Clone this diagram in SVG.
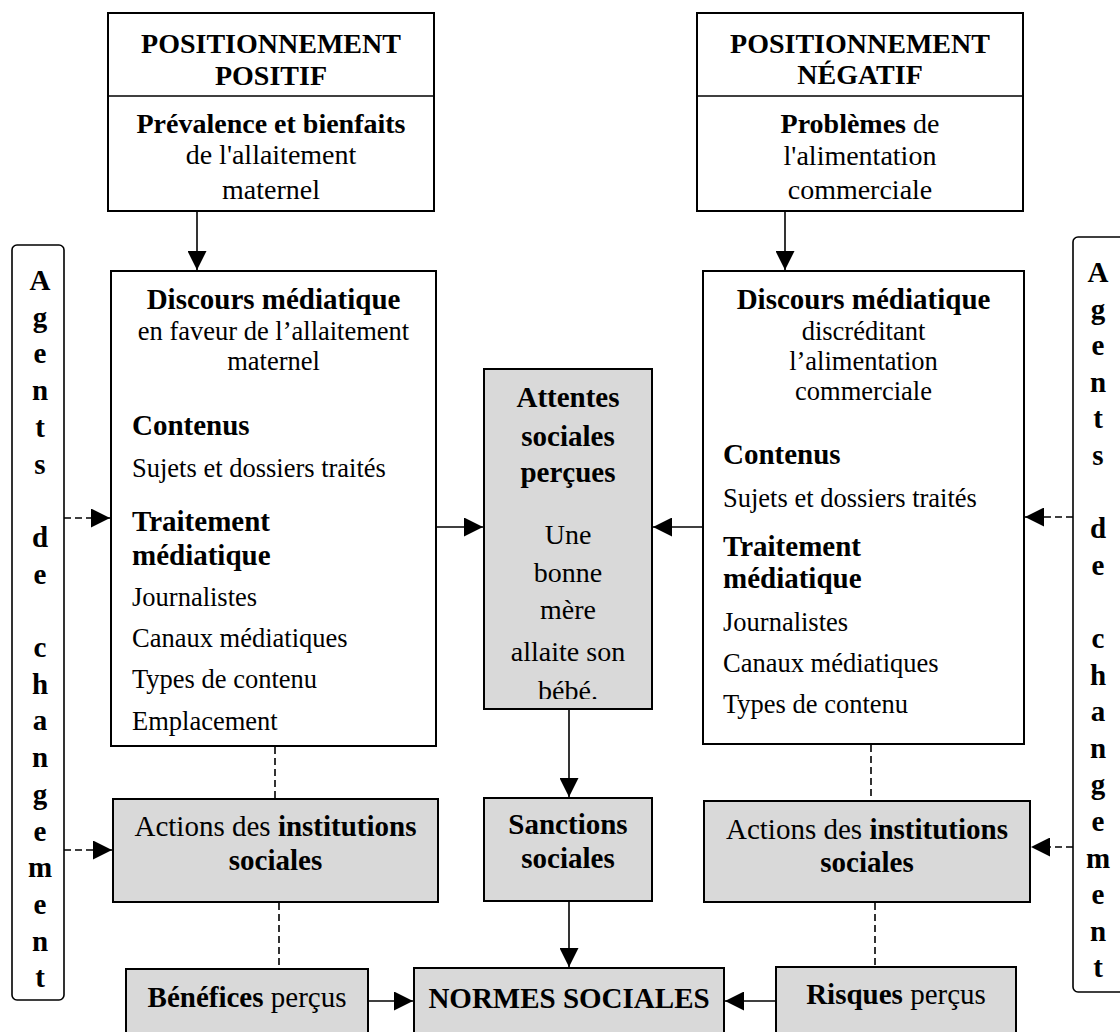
<svg xmlns="http://www.w3.org/2000/svg" width="1120" height="1032" viewBox="0 0 1120 1032">
  <style>
    text { font-family: "Liberation Serif", "Times New Roman", serif; fill: #000; }
    .b { font-weight: bold; font-size: 29px; }
    .b28 { font-weight: bold; font-size: 28px; }
    .r { font-size: 26.5px; }
    .r28 { font-size: 28px; }
    .r29 { font-size: 29px; }
    .c { text-anchor: middle; }
    .box { fill: #fff; stroke: #000; stroke-width: 2; }
    .gbox { fill: #d9d9d9; stroke: #000; stroke-width: 2; }
    .side { fill: #fff; stroke: #000; stroke-width: 1.6; }
    .ln { stroke: #000; stroke-width: 1.6; fill: none; }
    .dash { stroke: #000; stroke-width: 1.6; fill: none; stroke-dasharray: 7 4; }
    .vl { font-weight: bold; font-size: 29px; text-anchor: middle; }
  </style>
  <defs>
    <marker id="ah" markerUnits="userSpaceOnUse" markerWidth="19" markerHeight="19" viewBox="0 0 19 19" refX="19" refY="9.5" orient="auto">
      <path d="M0,0 L19,9.5 L0,19 z" fill="#000"/>
    </marker>
    <clipPath id="attClip"><rect x="484" y="369" width="168" height="330"/></clipPath>
  </defs>

  <rect width="1120" height="1032" fill="#fff"/>

  <!-- Connectors -->
  <g id="connectors">
    <line class="ln" x1="197" y1="211" x2="197" y2="270" marker-end="url(#ah)"/>
    <line class="ln" x1="785" y1="211" x2="785" y2="270" marker-end="url(#ah)"/>
    <line class="ln" x1="436" y1="527" x2="483" y2="527" marker-end="url(#ah)"/>
    <line class="ln" x1="703" y1="527" x2="653" y2="527" marker-end="url(#ah)"/>
    <line class="ln" x1="569" y1="710" x2="569" y2="797" marker-end="url(#ah)"/>
    <line class="ln" x1="569" y1="902" x2="569" y2="967" marker-end="url(#ah)"/>
    <line class="ln" x1="368" y1="1001" x2="413" y2="1001" marker-end="url(#ah)"/>
    <line class="ln" x1="776" y1="1001" x2="725" y2="1001" marker-end="url(#ah)"/>
    <line class="dash" x1="275" y1="747" x2="275" y2="798"/>
    <line class="dash" x1="279" y1="903" x2="279" y2="968"/>
    <line class="dash" x1="871" y1="745" x2="871" y2="800"/>
    <line class="dash" x1="875" y1="903" x2="875" y2="966"/>
    <line class="dash" x1="64" y1="518" x2="110" y2="518" marker-end="url(#ah)"/>
    <line class="dash" x1="64" y1="850" x2="112" y2="850" marker-end="url(#ah)"/>
    <line class="dash" x1="1073" y1="517" x2="1025" y2="517" marker-end="url(#ah)"/>
    <line class="dash" x1="1073" y1="847" x2="1031" y2="847" marker-end="url(#ah)"/>
  </g>

  <!-- Top left -->
  <g id="pos-positif">
    <rect class="box" x="108" y="13" width="326" height="198"/>
    <line class="ln" x1="108" y1="96" x2="434" y2="96" stroke-width="2"/>
    <text class="b28 c" x="271" y="53">POSITIONNEMENT</text>
    <text class="b28 c" x="271" y="85">POSITIF</text>
    <text class="b28 c" x="271" y="133">Prévalence et bienfaits</text>
    <text class="r28 c" x="271" y="164">de l'allaitement</text>
    <text class="r28 c" x="271" y="199">maternel</text>
  </g>

  <!-- Top right -->
  <g id="pos-negatif">
    <rect class="box" x="697" y="13" width="326" height="198"/>
    <line class="ln" x1="697" y1="96" x2="1023" y2="96" stroke-width="2"/>
    <text class="b28 c" x="860" y="53">POSITIONNEMENT</text>
    <text class="b28 c" x="860" y="84">NÉGATIF</text>
    <text class="c" x="860" y="133"><tspan class="b28">Problèmes</tspan><tspan class="r28"> de</tspan></text>
    <text class="r28 c" x="860" y="165">l'alimentation</text>
    <text class="r28 c" x="860" y="199">commerciale</text>
  </g>

  <!-- Left discourse -->
  <g id="discours-gauche">
    <rect class="box" x="111" y="271" width="325" height="475"/>
    <text class="b c" x="273.5" y="309">Discours médiatique</text>
    <text class="r c" x="273.5" y="340">en faveur de l’allaitement</text>
    <text class="r c" x="273.5" y="370">maternel</text>
    <text class="b" x="132" y="435">Contenus</text>
    <text class="r" x="132" y="477">Sujets et dossiers traités</text>
    <text class="b" x="132" y="531">Traitement</text>
    <text class="b" x="132" y="565">médiatique</text>
    <text class="r" x="132" y="606">Journalistes</text>
    <text class="r" x="132" y="647">Canaux médiatiques</text>
    <text class="r" x="132" y="688">Types de contenu</text>
    <text class="r" x="132" y="730">Emplacement</text>
  </g>

  <!-- Right discourse -->
  <g id="discours-droite">
    <rect class="box" x="703" y="271" width="321" height="473"/>
    <text class="b c" x="863.5" y="309">Discours médiatique</text>
    <text class="r c" x="863.5" y="340">discréditant</text>
    <text class="r c" x="863.5" y="370">l’alimentation</text>
    <text class="r c" x="863.5" y="400">commerciale</text>
    <text class="b" x="723" y="464">Contenus</text>
    <text class="r" x="723" y="507">Sujets et dossiers traités</text>
    <text class="b" x="723" y="556">Traitement</text>
    <text class="b" x="723" y="588">médiatique</text>
    <text class="r" x="723" y="631">Journalistes</text>
    <text class="r" x="723" y="672">Canaux médiatiques</text>
    <text class="r" x="723" y="713">Types de contenu</text>
  </g>

  <!-- Center: Attentes -->
  <g id="attentes">
    <rect class="gbox" x="484" y="369" width="168" height="340"/>
    <text class="b c" x="568" y="407">Attentes</text>
    <text class="b c" x="568" y="446">sociales</text>
    <text class="b c" x="568" y="482">perçues</text>
    <g clip-path="url(#attClip)">
      <text class="r28 c" x="568" y="544">Une</text>
      <text class="r28 c" x="568" y="582">bonne</text>
      <text class="r28 c" x="568" y="619">mère</text>
      <text class="r28 c" x="568" y="661">allaite son</text>
      <text class="r28 c" x="568" y="700">bébé.</text>
    </g>
  </g>

  <!-- Sanctions -->
  <g id="sanctions">
    <rect class="gbox" x="484" y="798" width="168" height="103"/>
    <text class="b c" x="568" y="834">Sanctions</text>
    <text class="b c" x="568" y="868">sociales</text>
  </g>

  <!-- Actions left -->
  <g id="actions-gauche">
    <rect class="gbox" x="113" y="799" width="325" height="103"/>
    <text class="c" x="275.5" y="836"><tspan class="r29">Actions des </tspan><tspan class="b">institutions</tspan></text>
    <text class="b c" x="275.5" y="870">sociales</text>
  </g>

  <!-- Actions right -->
  <g id="actions-droite">
    <rect class="gbox" x="704" y="801" width="326" height="101"/>
    <text class="c" x="867" y="839"><tspan class="r29">Actions des </tspan><tspan class="b">institutions</tspan></text>
    <text class="b c" x="867" y="872">sociales</text>
  </g>

  <!-- Bottom row -->
  <g id="benefices">
    <rect class="gbox" x="126" y="969" width="242" height="80"/>
    <text class="c" x="247" y="1007"><tspan class="b">Bénéfices</tspan><tspan class="r29"> perçus</tspan></text>
  </g>
  <g id="normes">
    <rect class="gbox" x="414" y="968" width="310" height="80"/>
    <text class="b c" x="569" y="1008">NORMES SOCIALES</text>
  </g>
  <g id="risques">
    <rect class="gbox" x="776" y="967" width="240" height="80"/>
    <text class="c" x="896" y="1004"><tspan class="b">Risques</tspan><tspan class="r29"> perçus</tspan></text>
  </g>

  <!-- Agents de changement (left) -->
  <g id="agents-gauche">
    <rect class="side" x="12" y="245" width="52" height="755" rx="5"/>
    <text class="vl" x="40" y="290">A</text>
    <text class="vl" x="40" y="326.7">g</text>
    <text class="vl" x="40" y="363.4">e</text>
    <text class="vl" x="40" y="400.1">n</text>
    <text class="vl" x="40" y="436.8">t</text>
    <text class="vl" x="40" y="473.5">s</text>
    <text class="vl" x="40" y="546.9">d</text>
    <text class="vl" x="40" y="583.6">e</text>
    <text class="vl" x="40" y="657">c</text>
    <text class="vl" x="40" y="693.7">h</text>
    <text class="vl" x="40" y="730.4">a</text>
    <text class="vl" x="40" y="767.1">n</text>
    <text class="vl" x="40" y="803.8">g</text>
    <text class="vl" x="40" y="840.5">e</text>
    <text class="vl" x="40" y="877.2">m</text>
    <text class="vl" x="40" y="913.9">e</text>
    <text class="vl" x="40" y="950.6">n</text>
    <text class="vl" x="40" y="987.3">t</text>
  </g>

  <!-- Agents de changement (right) -->
  <g id="agents-droite">
    <rect class="side" x="1073" y="237" width="60" height="755" rx="5"/>
    <text class="vl" x="1098" y="282">A</text>
    <text class="vl" x="1098" y="318.6">g</text>
    <text class="vl" x="1098" y="355.2">e</text>
    <text class="vl" x="1098" y="391.8">n</text>
    <text class="vl" x="1098" y="428.4">t</text>
    <text class="vl" x="1098" y="465">s</text>
    <text class="vl" x="1098" y="538.2">d</text>
    <text class="vl" x="1098" y="574.8">e</text>
    <text class="vl" x="1098" y="648">c</text>
    <text class="vl" x="1098" y="684.6">h</text>
    <text class="vl" x="1098" y="721.2">a</text>
    <text class="vl" x="1098" y="757.8">n</text>
    <text class="vl" x="1098" y="794.4">g</text>
    <text class="vl" x="1098" y="831">e</text>
    <text class="vl" x="1098" y="867.6">m</text>
    <text class="vl" x="1098" y="904.2">e</text>
    <text class="vl" x="1098" y="940.8">n</text>
    <text class="vl" x="1098" y="977.4">t</text>
  </g>
</svg>
